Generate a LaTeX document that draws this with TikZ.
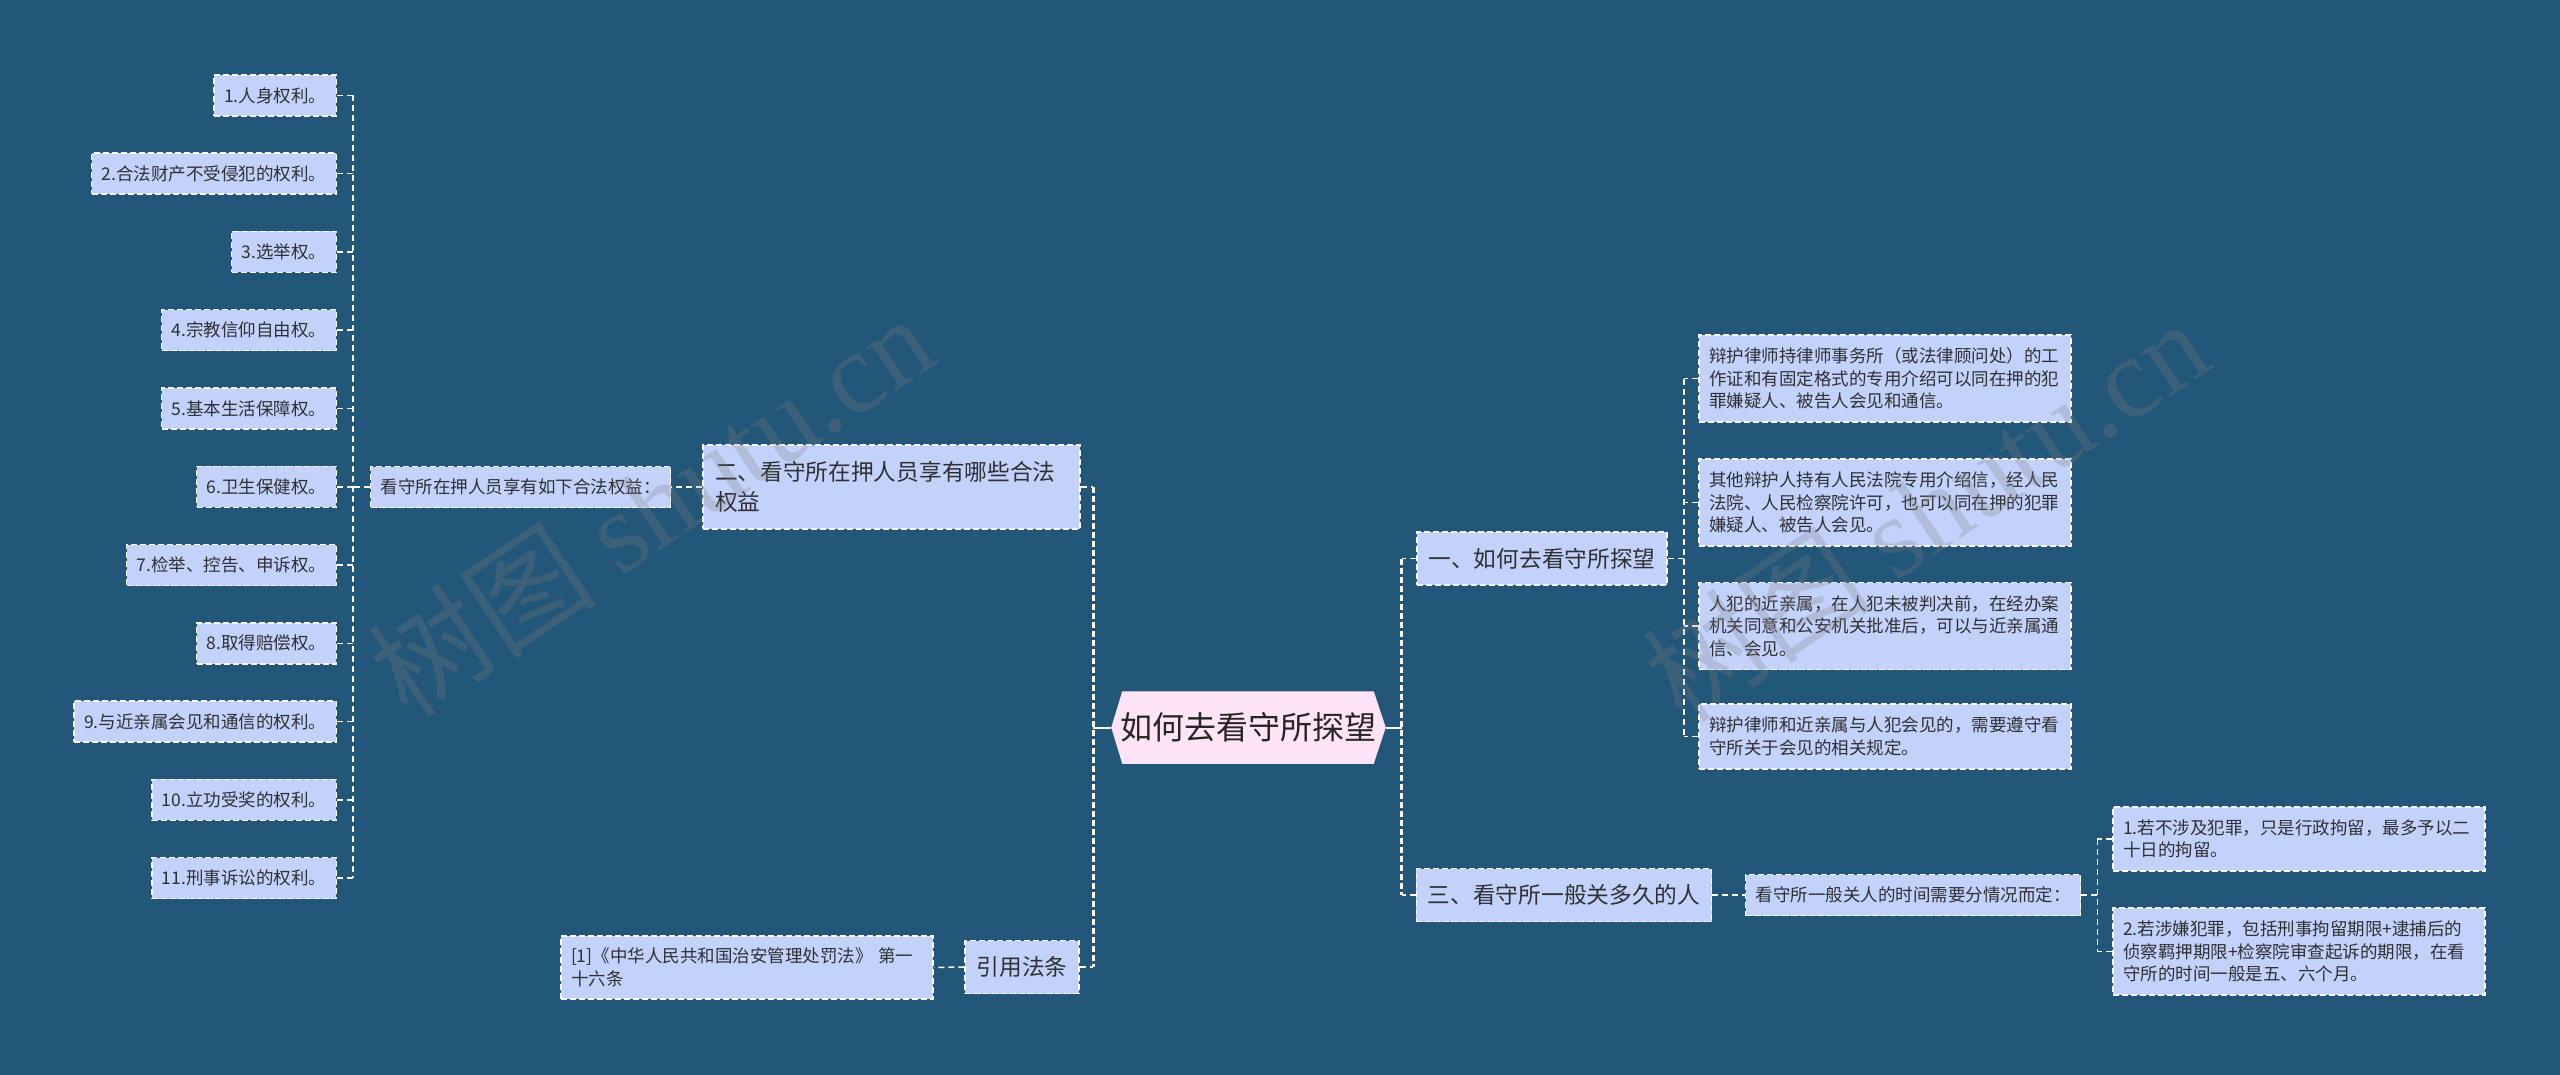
\documentclass[tikz,border=0pt]{standalone}
\usepackage{fontspec}
\setmainfont{Noto Sans CJK SC}
\newfontfamily\wmlatin{Liberation Serif}
\usetikzlibrary{backgrounds}

\definecolor{bgblue}{RGB}{35,87,121}
\definecolor{boxblue}{RGB}{194,210,250}
\definecolor{rootpink}{RGB}{255,228,248}
\definecolor{inkgray}{RGB}{48,48,52}

\tikzset{every picture/.style={line width=1.5pt}}
\tikzset{
	box/.style={draw=white, dash pattern=on 6pt off 3pt, fill=boxblue, text=inkgray, align=left, inner xsep=10pt, inner ysep=0pt},
	leaf/.style={box, font=\fontsize{17.5}{22.5}\selectfont, minimum height=41},
	topic/.style={box, font=\fontsize{22.7}{30}\selectfont, minimum height=53, inner xsep=11.5pt},
	rootbox/.style={font=\fontsize{32}{38}\selectfont, text=black!85, minimum width=273, minimum height=71, inner sep=0pt},
	link/.style={draw=white, dash pattern=on 6pt off 4pt, line width=1.5pt},
	trunk/.style={draw=white, dash pattern=on 6pt off 3pt, line width=3pt},
	stem/.style={draw=white, line width=2pt},
	wmark/.style={text=gray, opacity=0.26, font=\fontsize{115}{115}\selectfont, inner sep=0pt}
}

\begin{document}
\begin{tikzpicture}[x=1pt,y=1pt,yscale=-1,xscale=1]
	\useasboundingbox (0,0) rectangle (2560,1075);

	% centre
	\node[rootbox] (root) at (1248.5,727.5) {如何去看守所探望};

	\begin{scope}[on background layer]
	\fill[bgblue] (0,0) rectangle (2560,1075);
	\fill[rootpink] (root.west) -- ([xshift=11]root.north west) -- ([xshift=-12]root.north east) -- (root.east) -- ([xshift=-12]root.south east) -- ([xshift=11]root.south west) -- cycle;
	\end{scope}

	% left branch
	\node[topic, text width=353, minimum height=84, inner xsep=12pt] (rights) at (891.5,487) {二、看守所在押人员享有哪些合法\\权益};
	\node[leaf] (rlist) at (520.5,487) {看守所在押人员享有如下合法权益：};
	\foreach \txt [count=\i] in {1.人身权利。, 2.合法财产不受侵犯的权利。, 3.选举权。, 4.宗教信仰自由权。, 5.基本生活保障权。, 6.卫生保健权。, 7.检举、控告、申诉权。, 8.取得赔偿权。, 9.与近亲属会见和通信的权利。, 10.立功受奖的权利。, 11.刑事诉讼的权利。}
		\node[leaf, anchor=east] (r\i) at (337,{95.5+78.25*(\i-1)}) {\txt};

	\node[topic] (cite) at (1022,967) {引用法条};
	\node[leaf, text width=352, minimum height=63] (law) at (747,967.5) {[1]《中华人民共和国治安管理处罚法》 第一\\十六条};

	% right branch
	\node[topic] (visit) at (1542,558.5) {一、如何去看守所探望};
	\node[leaf, text width=352, minimum height=87] (v1) at (1885,378.5) {辩护律师持律师事务所（或法律顾问处）的工\\作证和有固定格式的专用介绍可以同在押的犯\\罪嫌疑人、被告人会见和通信。};
	\node[leaf, text width=352, minimum height=87] (v2) at (1885,502.5) {其他辩护人持有人民法院专用介绍信，经人民\\法院、人民检察院许可，也可以同在押的犯罪\\嫌疑人、被告人会见。};
	\node[leaf, text width=352, minimum height=87] (v3) at (1885,626) {人犯的近亲属，在人犯未被判决前，在经办案\\机关同意和公安机关批准后，可以与近亲属通\\信、会见。};
	\node[leaf, text width=352, minimum height=65] (v4) at (1885,736.5) {辩护律师和近亲属与人犯会见的，需要遵守看\\守所关于会见的相关规定。};

	\node[topic] (term) at (1564,895) {三、看守所一般关多久的人};
	\node[leaf] (rule) at (1913,895) {看守所一般关人的时间需要分情况而定：};
	\node[leaf, text width=352, minimum height=64] (t1) at (2299,839) {1.若不涉及犯罪，只是行政拘留，最多予以二\\十日的拘留。};
	\node[leaf, text width=352, minimum height=87] (t2) at (2299,951.5) {2.若涉嫌犯罪，包括刑事拘留期限+逮捕后的\\侦察羁押期限+检察院审查起诉的期限，在看\\守所的时间一般是五、六个月。};

	% connectors
	\draw[stem] (root.west) -- ++(-18,0) coordinate (lt);
	\draw[stem] (root.east) -- ++(16,0) coordinate (rt);
	\draw[trunk] (rights.east -| lt) -- (cite.east -| lt);
	\draw[link] (rights.east) -- (rights.east -| lt);
	\draw[link] (cite.east) -- (cite.east -| lt);
	\draw[trunk] (visit.west -| rt) -- (term.west -| rt);
	\draw[link] (visit.west) -- (visit.west -| rt);
	\draw[link] (term.west) -- (term.west -| rt);

	\draw[link] (rights.west) -- (rlist.east);
	\draw[link] (rlist.west) -- ++(-17,0) coordinate (lt2);
	\draw[link] (r1.east -| lt2) -- (r11.east -| lt2);
	\foreach \i in {1,...,11}
		\draw[link] (r\i.east) -- (r\i.east -| lt2);
	\draw[link] (cite.west) -- (law.east);

	\draw[link] (visit.east) -- ++(16,0) coordinate (vt);
	\draw[link] (v1.west -| vt) -- (v4.west -| vt);
	\foreach \n in {v1,v2,v3,v4}
		\draw[link] (\n.west) -- (\n.west -| vt);
	\draw[link] (term.east) -- (rule.west);
	\draw[link] (rule.east) -- ++(16,0) coordinate (tt);
	\draw[link] (t1.west -| tt) -- (t2.west -| tt);
	\foreach \n in {t1,t2}
		\draw[link] (\n.west) -- (\n.west -| tt);

	% watermark
	\node[wmark, rotate=34] (wm1) at (650,505) {树图 {\wmlatin shutu.cn}};
	\node[wmark, rotate=34] (wm2) at (1925,510) {树图 {\wmlatin shutu.cn}};
\end{tikzpicture}
\end{document}
